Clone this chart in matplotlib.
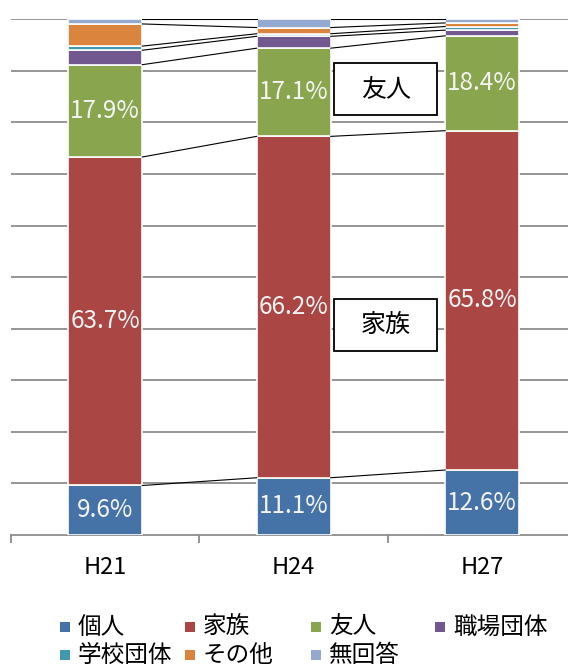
import numpy as np
import matplotlib
matplotlib.use('Agg')
import matplotlib.pyplot as plt
from matplotlib.patches import Rectangle

plt.rcParams['font.family'] = ['Noto Sans CJK JP', 'DejaVu Sans']

years = ['H21', 'H24', 'H27']
series = ['個人', '家族', '友人', '職場団体', '学校団体', 'その他', '無回答']
colors = ['#4572A7', '#AA4643', '#89A54E', '#71588F', '#4198AF', '#DB843D', '#93A9CF']

kojin = [9.6, 11.1, 12.6]
kazoku = [63.7, 66.2, 65.8]
yujin = [17.9, 17.1, 18.4]
shokuba = [2.8, 2.3, 1.1]
gakko = [0.8, 0.5, 0.7]
sonota = [4.3, 1.2, 0.7]
mukaito = [0.9, 1.6, 0.7]

labeled = ['個人', '家族', '友人']

W, H = 568, 672
fig = plt.figure(figsize=(W / 100, H / 100), dpi=100)
ax = fig.add_axes([11 / W, 137 / H, 557 / W, 515.7 / H])

data = np.array([kojin, kazoku, yujin, shokuba, gakko, sonota, mukaito])
x = np.arange(len(years))
bw = 0.393
bottom = np.zeros(len(years))
for name, vals, c in zip(series, data, colors):
    ax.bar(x, vals, bw, bottom=bottom, color=c, edgecolor='white', linewidth=1.2, zorder=3)
    if name in labeled:
        for xi, v, b in zip(x, vals, bottom):
            ax.text(xi, b + v / 2, f'{v:.1f}%', ha='center', va='center',
                    color='#f4f4f4', fontsize=17.5, zorder=5)
    top = bottom + vals
    # series lines between neighbouring bars
    for i in range(len(years) - 1):
        ax.plot([x[i] + bw / 2, x[i + 1] - bw / 2], [top[i], top[i + 1]],
                color='black', lw=0.8, zorder=4)
    bottom = top

# call-out boxes
for txt, yc in [('友人', 86.45), ('家族', 40.75)]:
    ax.add_patch(Rectangle((1.215, yc - 5.05), 0.546, 10.1, facecolor='white',
                           edgecolor='black', lw=1.3, zorder=6))
    ax.text(1.488, yc, txt, ha='center', va='center', fontsize=18, zorder=7)

ax.set_xlim(-0.5, 2.455)
ax.set_ylim(0, 100)
ax.set_yticks(np.arange(10, 101, 10))
ax.yaxis.grid(True, color='#8c8c8c', lw=1.3, zorder=0)
ax.tick_params(axis='y', left=False, labelleft=False)
for s in ['top', 'right', 'left']:
    ax.spines[s].set_visible(False)
ax.spines['bottom'].set_color('#8c8c8c')
ax.spines['bottom'].set_linewidth(1.3)
ax.set_xticks(x)
ax.set_xticklabels(years, fontsize=17)
ax.tick_params(axis='x', length=0, pad=15)
ax.set_xticks([-0.5, 0.5, 1.5], minor=True)
ax.tick_params(axis='x', which='minor', length=6, width=1.3, color='#8c8c8c', direction='out')

# legend laid out like the original (equal column widths)
legend_cols = [60, 185, 311, 435]
legend_rows = [627, 655]
for k, (name, c) in enumerate(zip(series, colors)):
    lx = legend_cols[k % 4]
    ly = legend_rows[k // 4]
    fig.add_artist(Rectangle((lx / W, 1 - (ly + 5) / H), 10 / W, 10 / H,
                             transform=fig.transFigure, facecolor=c, edgecolor='none'))
    fig.text((lx + 18) / W, 1 - ly / H, name, ha='left', va='center', fontsize=17)

fig.savefig('out.png', dpi=100)
